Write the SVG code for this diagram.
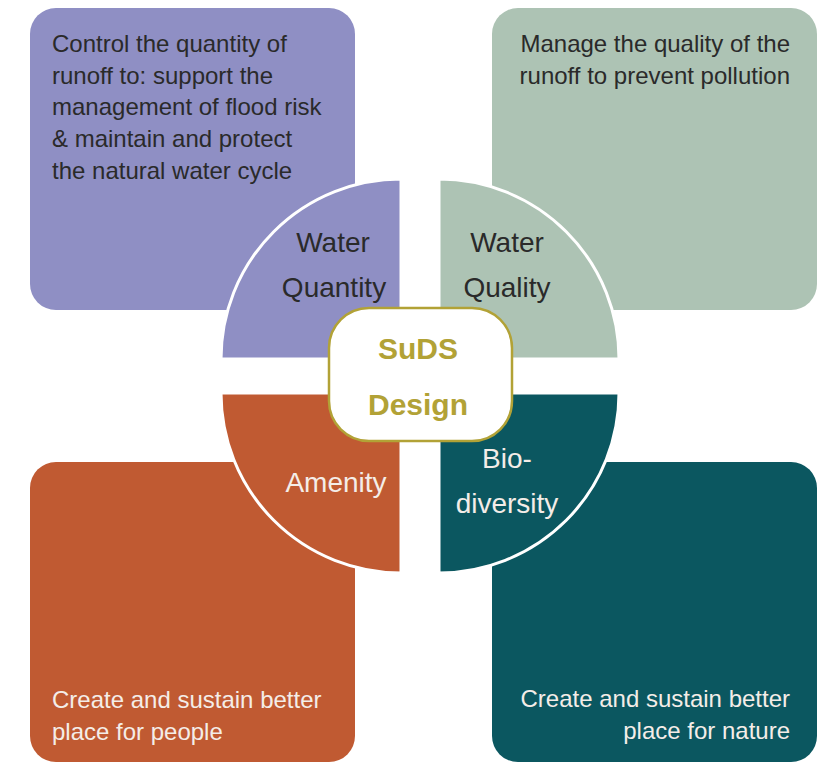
<svg xmlns="http://www.w3.org/2000/svg" width="823" height="763" viewBox="0 0 823 763">
<style>
text{font-family:"Liberation Sans",Arial,sans-serif}
.body{font-size:24px}
.lbl{font-size:28px}
.dark{fill:#2a2a2a}
.light{fill:#f4ede8}
.q{stroke:#ffffff;stroke-width:3}
.mid{text-anchor:middle}
.end{text-anchor:end}
</style>
<rect width="823" height="763" fill="#ffffff"/>
<g id="box-quantity"><rect x="30" y="8" width="325" height="302" rx="26" fill="#8f8fc4"/>
<text class="body dark"><tspan x="52" y="52">Control the quantity of</tspan><tspan x="52" y="84">runoff to: support the</tspan><tspan x="52" y="115">management of flood risk</tspan><tspan x="52" y="147">&amp; maintain and protect</tspan><tspan x="52" y="179">the natural water cycle</tspan></text></g>
<g id="box-quality"><rect x="492" y="8" width="325" height="302" rx="26" fill="#adc3b4"/>
<text class="body dark end"><tspan x="790" y="52">Manage the quality of the</tspan><tspan x="790" y="84">runoff to prevent pollution</tspan></text></g>
<g id="box-amenity"><rect x="30" y="462" width="325" height="300" rx="26" fill="#c05a32"/>
<text class="body light"><tspan x="52" y="708">Create and sustain better</tspan><tspan x="52" y="740">place for people</tspan></text></g>
<g id="box-biodiversity"><rect x="492" y="462" width="325" height="300" rx="26" fill="#0b5760"/>
<text class="body light end"><tspan x="790" y="707">Create and sustain better</tspan><tspan x="790" y="739">place for nature</tspan></text></g>
<g id="q-quantity"><path class="q" d="M401 359 L221 359 A180 180 0 0 1 401 179 Z" fill="#8f8fc4"/>
<text class="lbl dark mid"><tspan x="333" y="252">Water</tspan><tspan x="334" y="297">Quantity</tspan></text></g>
<g id="q-quality"><path class="q" d="M439 359 L439 179 A180 180 0 0 1 619 359 Z" fill="#adc3b4"/>
<text class="lbl dark mid"><tspan x="507" y="252">Water</tspan><tspan x="507" y="297">Quality</tspan></text></g>
<g id="q-amenity"><path class="q" d="M401 393 L401 573 A180 180 0 0 1 221 393 Z" fill="#c05a32"/>
<text class="lbl light mid" x="336" y="492">Amenity</text></g>
<g id="q-biodiversity"><path class="q" d="M439 393 L619 393 A180 180 0 0 1 439 573 Z" fill="#0b5760"/>
<text class="lbl light mid"><tspan x="507" y="468">Bio-</tspan><tspan x="507" y="513">diversity</tspan></text></g>
<g id="center"><rect x="329" y="308" width="183" height="133" rx="40" fill="#ffffff" stroke="#b2a236" stroke-width="2.5"/>
<text class="mid" style="font-size:30px;font-weight:bold;fill:#b2a236"><tspan x="418" y="359">SuDS</tspan><tspan x="418" y="415">Design</tspan></text></g>
<g id="connectors"/>
</svg>
